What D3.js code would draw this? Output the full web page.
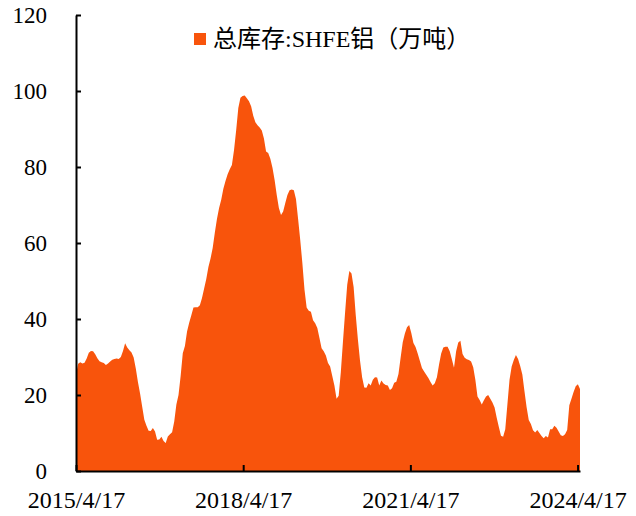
<!DOCTYPE html>
<html>
<head>
<meta charset="utf-8">
<script src="https://cdn.jsdelivr.net/npm/d3@7"></script>
<style>
  body { margin: 0; background: #fff; }
  text { font-family: "Liberation Serif", "Times New Roman", "Noto Sans CJK SC", serif; }
</style>
</head>
<body>
<div id="container"></div>
<script>
const w = 636,
  h = 516;

// weekly series sampled every two weeks, starting 2015/4/17
const startDate = '2015-04-17';
const stepDays = 14;
const seriesName = '总库存:SHFE铝（万吨）';
const stockValues = [
  25.3, 28.2, 28.6, 28.3, 28.5, 29.6, 31.1, 31.6, 31.5, 30.7,
  29.7, 28.9, 28.6, 28.4, 27.9, 28.3, 28.8, 29.3, 29.5, 29.6,
  29.5, 30.0, 31.6, 33.6, 32.5, 31.8, 31.2, 29.9, 27.0, 23.4,
  20.4, 16.9, 13.5, 11.9, 10.6, 10.5, 11.3, 10.4, 8.2, 8.3,
  9.0, 7.9, 7.4, 9.1, 9.7, 10.2, 13.0, 17.5, 20.0, 25.0,
  31.0, 32.9, 36.7, 39.0, 41.0, 43.0, 43.1, 43.1, 43.6, 45.5,
  48.0, 50.5, 53.7, 55.9, 58.7, 62.7, 66.3, 69.2, 71.4, 74.3,
  76.3, 78.1, 79.4, 80.5, 84.5, 89.7, 95.5, 98.2, 98.7, 98.8,
  98.1, 97.3, 96.0, 93.5, 91.8, 91.0, 90.4, 89.6, 87.5, 84.1,
  83.7, 82.2, 79.8, 76.6, 72.6, 69.2, 67.4, 68.3, 70.5, 72.6,
  73.9, 74.1, 73.9, 71.6, 66.3, 60.8, 54.7, 47.7, 43.0, 42.2,
  41.9, 39.7, 38.9, 37.6, 35.0, 32.3, 31.5, 30.4, 28.4, 27.5,
  25.0, 22.5, 19.0, 19.8, 26.0, 34.0, 41.7, 49.0, 52.6, 52.0,
  48.4, 41.0, 34.6, 29.0, 24.6, 22.0, 21.9, 23.1, 22.5, 24.0,
  24.7, 24.6, 22.5, 23.8, 23.0, 22.6, 22.5, 21.3, 21.8, 23.2,
  23.5, 25.5, 29.8, 33.9, 36.2, 37.8, 38.4, 36.3, 33.7, 32.6,
  30.9, 29.0, 27.1, 26.2, 25.3, 24.5, 23.4, 22.5, 23.1, 24.7,
  28.0, 30.9, 32.5, 32.7, 32.7, 31.5, 29.4, 27.2, 31.5, 33.8,
  34.3, 30.8, 29.8, 29.4, 29.2, 28.8, 27.3, 24.0, 19.6, 18.7,
  17.5, 18.6, 19.6, 20.0, 19.0, 18.0, 16.7, 14.0, 11.6, 9.3,
  9.0, 11.0, 17.5, 24.0, 27.5, 29.2, 30.5, 29.5, 27.6, 25.4,
  21.0, 16.8, 13.4, 12.4, 10.7, 10.1, 10.8, 10.0, 9.2, 8.6,
  9.2, 8.8, 11.0, 11.0, 11.9, 11.4, 10.4, 9.4, 9.2, 9.7,
  10.8, 17.3, 19.0, 20.8, 22.3, 22.8, 21.6
];
const xTickDates = ['2015-04-17', '2018-04-17', '2021-04-17', '2024-04-17'];
const yTicks = [0, 20, 40, 60, 80, 100, 120];

const fillColor = '#F8540C';
const parse = d3.utcParse('%Y-%m-%d');
const fmt = d3.utcFormat('%Y/%-m/%-d');

const start = parse(startDate);
const data = stockValues.map((v, i) => ({
  date: d3.utcDay.offset(start, i * stepDays),
  value: v
}));

const svg = d3.select('#container').append('svg').attr('width', w).attr('height', h);

const xScale = d3.scaleUtc()
  .domain([start, data[data.length - 1].date])
  .range([76, 580]);

const yScale = d3.scaleLinear().domain([0, 120]).range([471, 15]);

const area = d3.area()
  .x((d) => xScale(d.date))
  .y0(yScale(0))
  .y1((d) => yScale(d.value));

svg.append('path')
  .datum(data)
  .attr('fill', fillColor)
  .attr('d', area);

const yAxis = d3.axisLeft(yScale)
  .tickValues(yTicks)
  .tickSize(-5)
  .tickSizeOuter(0)
  .tickPadding(29);

const yG = svg.append('g')
  .attr('transform', 'translate(76, 0)')
  .call(yAxis);

const xAxis = d3.axisBottom(xScale)
  .tickValues(xTickDates.map(parse))
  .tickFormat(fmt)
  .tickSize(-6)
  .tickSizeOuter(0)
  .tickPadding(20);

const xG = svg.append('g')
  .attr('transform', 'translate(0, 471)')
  .call(xAxis);

[yG, xG].forEach((g) => {
  g.select('.domain').attr('stroke', '#000').attr('stroke-width', 2);
  g.selectAll('.tick line').attr('stroke', '#000').attr('stroke-width', 2);
  g.selectAll('.tick text')
    .attr('fill', '#000')
    .style('font-family', '"Liberation Serif", "Times New Roman", serif');
});
yG.selectAll('.tick text').style('font-size', '23px');
xG.selectAll('.tick text').style('font-size', '24px');

// legend
const legend = svg.append('g').attr('transform', 'translate(194, 33)');
legend.append('rect')
  .attr('width', 12)
  .attr('height', 12)
  .attr('fill', fillColor);
legend.append('text')
  .attr('x', 19)
  .attr('y', 14)
  .style('font-size', '24px')
  .attr('fill', '#000')
  .text(seriesName);
</script>
</body>
</html>
